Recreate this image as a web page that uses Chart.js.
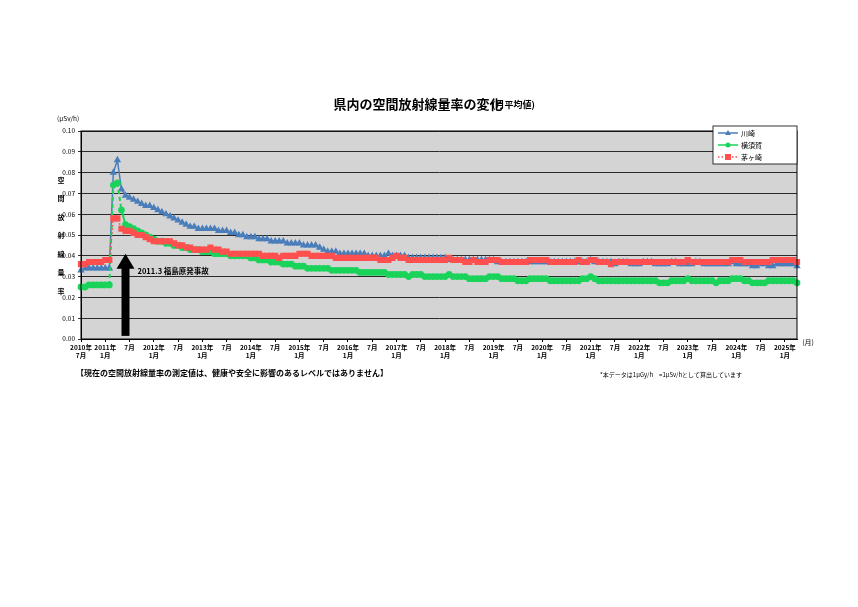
<!DOCTYPE html>
<html><head><meta charset="utf-8">
<script src="https://cdn.jsdelivr.net/npm/chart.js@4.4.1/dist/chart.umd.min.js"></script>
<style>html,body{margin:0;background:#fff}#wrap{width:858px;height:607px;position:relative}</style>
</head><body><div id="wrap"><canvas id="c" width="858" height="607"></canvas></div>
<script>
// 月ラベル (2010年7月 〜 2025年4月)
const startYear = 2010, startMonth = 7, monthCount = 178;
const months = [];
for (let i = 0; i < monthCount; i++) {
  const m = (startMonth - 1 + i) % 12 + 1;
  const y = startYear + Math.floor((startMonth - 1 + i) / 12);
  months.push(y + '-' + m);
}

const kawasaki = [
  .033,.034,.034,.034,.034,.034,
  .034,.034,.080,.086,.072,.069,.068,.067,.066,.065,.064,.064,
  .063,.062,.061,.060,.059,.058,.057,.056,.055,.054,.054,.053,
  .053,.053,.053,.053,.052,.052,.052,.051,.051,.050,.050,.049,
  .049,.049,.048,.048,.048,.047,.047,.047,.047,.046,.046,.046,
  .046,.045,.045,.045,.045,.044,.043,.042,.042,.042,.041,.041,
  .041,.041,.041,.041,.041,.040,.040,.040,.040,.040,.041,.040,
  .040,.040,.040,.039,.039,.039,.039,.039,.039,.039,.039,.039,
  .039,.038,.038,.038,.038,.038,.038,.038,.038,.038,.038,.038,
  .038,.037,.037,.037,.037,.037,.037,.037,.037,.037,.037,.037,
  .037,.037,.037,.037,.037,.037,.037,.037,.037,.037,.037,.037,
  .038,.037,.037,.037,.037,.037,.036,.037,.037,.037,.036,.036,
  .036,.037,.037,.037,.036,.036,.036,.036,.037,.037,.036,.036,
  .036,.036,.037,.037,.036,.036,.036,.036,.036,.036,.036,.037,
  .036,.036,.036,.036,.035,.035,.036,.036,.035,.035,.036,.036,
  .036,.036,.036,.035
];
const yokosuka = [
  .025,.025,.026,.026,.026,.026,
  .026,.026,.074,.075,.062,.055,.054,.053,.052,.051,.050,.049,
  .048,.047,.047,.046,.046,.045,.045,.044,.044,.043,.043,.043,
  .042,.042,.042,.041,.041,.041,.041,.040,.040,.040,.040,.040,
  .039,.039,.038,.038,.038,.037,.037,.037,.036,.036,.036,.035,
  .035,.035,.034,.034,.034,.034,.034,.034,.033,.033,.033,.033,
  .033,.033,.033,.032,.032,.032,.032,.032,.032,.032,.031,.031,
  .031,.031,.031,.030,.031,.031,.031,.030,.030,.030,.030,.030,
  .030,.031,.030,.030,.030,.030,.029,.029,.029,.029,.029,.030,
  .030,.030,.029,.029,.029,.029,.028,.028,.028,.029,.029,.029,
  .029,.029,.028,.028,.028,.028,.028,.028,.028,.028,.029,.029,
  .030,.029,.028,.028,.028,.028,.028,.028,.028,.028,.028,.028,
  .028,.028,.028,.028,.028,.027,.027,.027,.028,.028,.028,.028,
  .029,.028,.028,.028,.028,.028,.028,.027,.028,.028,.028,.029,
  .029,.029,.028,.028,.027,.027,.027,.027,.028,.028,.028,.028,
  .028,.028,.028,.027
];
const chigasaki = [
  .036,.036,.037,.037,.037,.037,
  .038,.038,.058,.058,.053,.052,.052,.051,.050,.050,.049,.048,
  .047,.047,.047,.047,.047,.046,.045,.045,.044,.044,.043,.043,
  .043,.043,.044,.043,.043,.042,.042,.041,.041,.041,.041,.041,
  .041,.041,.041,.040,.040,.040,.040,.039,.040,.040,.040,.040,
  .041,.041,.041,.040,.040,.040,.040,.040,.040,.039,.039,.039,
  .039,.039,.039,.039,.039,.039,.039,.039,.038,.038,.038,.039,
  .040,.039,.039,.038,.038,.038,.038,.038,.038,.038,.038,.038,
  .038,.039,.038,.038,.038,.037,.037,.038,.037,.037,.037,.038,
  .038,.038,.037,.037,.037,.037,.037,.037,.037,.038,.038,.038,
  .038,.038,.037,.037,.037,.037,.037,.037,.037,.038,.037,.037,
  .038,.038,.037,.037,.037,.036,.037,.037,.037,.037,.037,.037,
  .037,.037,.037,.037,.037,.037,.037,.037,.037,.037,.037,.037,
  .038,.037,.037,.037,.037,.037,.037,.037,.037,.037,.037,.038,
  .038,.038,.037,.037,.037,.037,.037,.037,.037,.038,.038,.038,
  .038,.038,.038,.037
];
const seriesNames = ['川崎', '横須賀', '茅ヶ崎'];
const yTicks = [0, 0.01, 0.02, 0.03, 0.04, 0.05, 0.06, 0.07, 0.08, 0.09, 0.10];
const accidentIndex = 8;

const FONT = '"Noto Sans CJK JP", "Noto Sans", sans-serif';

const decorations = {
  id: 'decorations',
  beforeDraw(chart) {
    const { ctx, chartArea: a } = chart;
    ctx.save();
    ctx.fillStyle = '#d4d4d4';
    ctx.fillRect(a.left, a.top, a.right - a.left, a.bottom - a.top);
    ctx.restore();
  },
  afterDraw(chart) {
    const { ctx, chartArea: a, scales } = chart;
    ctx.save();
    ctx.strokeStyle = '#000'; ctx.lineWidth = 1;
    ctx.strokeRect(a.left, a.top, a.right - a.left, a.bottom - a.top);
    ctx.fillStyle = '#000';
    ctx.font = 'bold 13px ' + FONT;
    ctx.textAlign = 'center'; ctx.textBaseline = 'middle';
    ctx.fillText('県内の空間放射線量率の変化', 418, 104);
    ctx.font = 'bold 9px ' + FONT;
    ctx.textAlign = 'left';
    ctx.fillText('(月平均値)', 492, 105);
    ctx.font = '6.5px ' + FONT;
    ctx.fillText('(μSv/h)', 57, 119);
    ctx.font = 'bold 7px ' + FONT;
    ctx.textAlign = 'center';
    '空間放射線量率'.split('').forEach((ch, i) => ctx.fillText(ch, 61, 180 + i * 18.5));
    ctx.font = '7px ' + FONT;
    ctx.fillText('(月)', 808, 342);
    ctx.textAlign = 'left';
    ctx.font = 'bold 8px ' + FONT;
    ctx.fillText('【現在の空間放射線量率の測定値は、健康や安全に影響のあるレベルではありません】', 76, 373);
    ctx.font = '6px ' + FONT;
    ctx.fillText('*本データは1μGy/h　=1μSv/hとして算出しています', 600, 375);
    // 事故の矢印
    const ax = scales.x.getPixelForValue(accidentIndex + 3);
    const yb = scales.y.getPixelForValue(0.0015), yt = scales.y.getPixelForValue(0.041);
    ctx.fillRect(ax - 4, yt + 14, 8, yb - yt - 14);
    ctx.beginPath();
    ctx.moveTo(ax - 9, yt + 15); ctx.lineTo(ax + 9, yt + 15); ctx.lineTo(ax, yt);
    ctx.closePath(); ctx.fill();
    ctx.font = 'bold 7.5px ' + FONT;
    ctx.textBaseline = 'middle';
    ctx.fillText('2011.3 福島原発事故', ax + 12, scales.y.getPixelForValue(0.0325));
    // 凡例
    const lx = 713, ly = 126;
    ctx.fillStyle = '#fff'; ctx.fillRect(lx, ly, 84, 38);
    ctx.strokeStyle = '#000'; ctx.lineWidth = 0.8; ctx.strokeRect(lx, ly, 84, 38);
    chart.data.datasets.forEach((ds, i) => {
      const yy = ly + 7 + i * 12;
      ctx.strokeStyle = ds.borderColor; ctx.lineWidth = 1.5;
      ctx.setLineDash(i === 2 ? [1.5, 2] : []);
      ctx.beginPath(); ctx.moveTo(lx + 5, yy); ctx.lineTo(lx + 25, yy); ctx.stroke();
      ctx.setLineDash([]);
      ctx.fillStyle = ds.borderColor;
      ctx.beginPath();
      if (i === 0) { ctx.moveTo(lx + 15, yy - 3); ctx.lineTo(lx + 18, yy + 2); ctx.lineTo(lx + 12, yy + 2); }
      else if (i === 1) ctx.arc(lx + 15, yy, 2.5, 0, Math.PI * 2);
      else ctx.rect(lx + 12, yy - 3, 6, 6);
      ctx.fill();
      ctx.fillStyle = '#000'; ctx.font = '7px ' + FONT; ctx.textAlign = 'left';
      ctx.fillText(ds.label, lx + 28, yy);
    });
    ctx.restore();
  }
};

const dashJump = ctx => (ctx.p0DataIndex === accidentIndex - 1 || ctx.p0DataIndex === accidentIndex + 1) ? [4, 3] : undefined;

new Chart(document.getElementById('c'), {
  type: 'line',
  data: {
    labels: months,
    datasets: [
      { label: seriesNames[0], data: kawasaki, borderColor: '#4a7ebb', backgroundColor: '#4a7ebb',
        borderWidth: 1.5, pointStyle: 'triangle', pointRadius: 2.8, order: 3 },
      { label: seriesNames[1], data: yokosuka, borderColor: '#1ad35a', backgroundColor: '#1ad35a',
        borderWidth: 2, pointStyle: 'circle', pointRadius: 2.4, order: 2,
        segment: { borderDash: dashJump } },
      { label: seriesNames[2], data: chigasaki, borderColor: '#ff4f4f', backgroundColor: '#ff4f4f',
        borderWidth: 1.5, borderDash: [1.5, 2], pointStyle: 'rect', pointRadius: 3.3, order: 1 }
    ]
  },
  options: {
    responsive: false, animation: false, devicePixelRatio: 1,
    layout: { padding: { left: 0, top: 131, right: 61, bottom: 0 } },
    plugins: { legend: { display: false }, tooltip: { enabled: false } },
    scales: {
      x: {
        offset: false,
        grid: { drawOnChartArea: false, color: '#000', tickLength: 3 },
        border: { color: '#000' },
        afterFit: s => { s.height = 268; },
        ticks: {
          autoSkip: false, maxRotation: 0, color: '#000', padding: 2,
          font: { size: 6.5, family: FONT, weight: 'bold' },
          callback: (v, i) => {
            if (i % 6 !== 0) return null;
            const [y, m] = months[i].split('-');
            if (i === 0) return [y + '年', m + '月'];
            return m === '1' ? [y + '年', '1月'] : ['7月'];
          }
        }
      },
      y: {
        min: 0, max: 0.10,
        afterBuildTicks: s => { s.ticks = yTicks.map(v => ({ value: v })); },
        afterFit: s => { s.width = 81; },
        grid: { color: '#000', lineWidth: 0.8, tickLength: 3 },
        border: { color: '#000' },
        ticks: { color: '#000', font: { size: 6.5, family: FONT }, callback: v => v.toFixed(2) }
      }
    }
  },
  plugins: [decorations]
});
</script>
</body></html>
